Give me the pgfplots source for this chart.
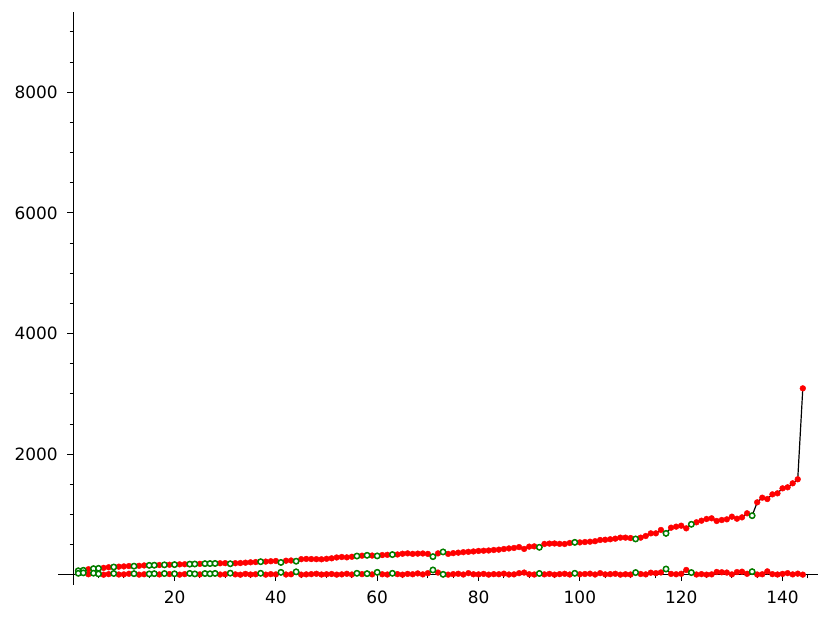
\documentclass[border=0pt]{standalone}
\usepackage{fontspec}
\setmainfont{DejaVu Sans}
\usepackage{pgfplots}
\pgfplotsset{compat=1.18}
\usepackage{pgfplotstable}
\definecolor{mplgreen}{RGB}{0,128,0}

% upper series
\pgfplotstableread{
x y
1 70
2 78
3 95
4 105
5 110
6 118
7 128
8 132
9 138
10 142
11 148
12 146
13 152
14 158
15 160
16 162
17 165
18 168
19 170
20 172
21 176
22 178
23 180
24 182
25 185
26 188
27 189
28 191
29 194
30 196
31 186
32 195
33 198
34 204
35 210
36 214
37 220
38 222
39 228
40 232
41 208
42 236
43 240
44 228
45 262
46 266
47 264
48 262
49 260
50 268
51 276
52 290
53 298
54 292
55 302
56 314
57 320
58 326
59 322
60 316
61 330
62 334
63 338
64 340
65 352
66 358
67 350
68 354
69 356
70 350
71 304
72 358
73 382
74 350
75 362
76 370
77 378
78 384
79 390
80 398
81 402
82 406
83 414
84 420
85 430
86 440
87 448
88 462
89 432
90 470
91 474
92 459
93 514
94 520
95 522
96 516
97 514
98 530
99 541
100 540
101 546
102 552
103 560
104 580
105 584
106 592
107 602
108 619
109 619
110 612
111 597
112 619
113 646
114 690
115 690
116 746
117 690
118 784
119 801
120 817
121 773
122 840
123 873
124 900
125 928
126 939
127 895
128 911
129 922
130 966
131 933
132 955
133 1022
134 983
135 1204
136 1281
137 1259
138 1336
139 1353
140 1436
141 1453
142 1519
143 1586
144 3093
}\upperdata

% lower series
\pgfplotstableread{
x y
1 28
2 35
3 12
4 30
5 18
6 5
7 14
8 25
9 8
10 10
11 20
12 22
13 6
14 12
15 18
16 22
17 9
18 24
19 15
20 20
21 6
22 14
23 26
24 18
25 10
26 24
27 20
28 26
29 8
30 12
31 30
32 10
33 5
34 18
35 8
36 12
37 28
38 6
39 14
40 10
41 44
42 8
43 12
44 52
45 6
46 10
47 14
48 20
49 8
50 12
51 16
52 6
53 10
54 20
55 8
56 28
57 14
58 22
59 10
60 44
61 12
62 8
63 28
64 14
65 6
66 18
67 12
68 26
69 10
70 30
71 83
72 40
73 11
74 6
75 14
76 20
77 8
78 30
79 12
80 10
81 18
82 6
83 14
84 12
85 22
86 8
87 10
88 30
89 40
90 12
91 8
92 25
93 10
94 18
95 6
96 14
97 20
98 8
99 28
100 12
101 16
102 22
103 8
104 30
105 10
106 14
107 20
108 6
109 12
110 8
111 40
112 16
113 10
114 38
115 30
116 42
117 99
118 18
119 12
120 20
121 83
122 40
123 8
124 14
125 6
126 10
127 50
128 45
129 40
130 10
131 48
132 55
133 20
134 55
135 8
136 12
137 60
138 14
139 8
140 18
141 30
142 10
143 22
144 6
}\lowerdata

\begin{document}
\begin{tikzpicture}
\begin{axis}[
    at={(58bp,34bp)}, anchor=south west,
    scale only axis, width=760bp, height=573bp,
    xmin=-3, xmax=147, ymin=-166, ymax=9330,
    axis lines=middle,
    axis line style={-, line width=1bp},
    every inner x axis line/.append style={-},
    every inner y axis line/.append style={-},
    tick align=outside,
    xtick={20,40,...,140}, ytick={2000,4000,6000,8000},
    minor xtick={5,10,...,145}, minor ytick={500,1000,...,9000},
    major tick length=6bp, minor tick length=3.5bp,
    tick style={black, line width=1bp},
    ticklabel style={font=\fontsize{17}{17}\selectfont},
    xticklabel style={yshift=-6bp},
    yticklabel style={xshift=-6bp},
    /pgf/number format/assume math mode=true,
    /pgf/number format/1000 sep={},
    clip=false,
]
% lines
\addplot[black, line width=1.2bp, no marks] table {\upperdata};
\addplot[black, line width=1.2bp, no marks] table {\lowerdata};
% red points
\addplot[only marks, mark=*, mark size=2.9bp, mark options={draw=red, fill=red}] table {\upperdata};
\addplot[only marks, mark=*, mark size=2.9bp, mark options={draw=red, fill=red}] table {\lowerdata};
% green rings
\addplot[only marks, mark=*, mark size=2.7bp, mark options={draw=mplgreen, fill=white, line width=1.5bp}] coordinates {
(1,70) (2,78) (4,105) (5,110) (8,132) (12,146) (15,160) (16,162) (18,168) (20,172)
(23,180) (24,182) (26,188) (27,189) (28,191) (31,186) (37,220) (41,208) (44,228)
(56,314) (58,326) (60,316) (63,338) (71,304) (73,382) (92,459) (99,541) (111,597)
(117,690) (122,840) (134,983)
};
\addplot[only marks, mark=*, mark size=2.7bp, mark options={draw=mplgreen, fill=white, line width=1.5bp}] coordinates {
(1,28) (2,35) (4,30) (5,18) (8,25) (12,22) (15,18) (16,22) (18,24) (20,20)
(23,26) (24,18) (26,24) (27,20) (28,26) (31,30) (37,28) (41,44) (44,52)
(56,28) (58,22) (60,44) (63,28) (71,83) (73,11) (92,25) (99,28) (111,40)
(117,99) (122,40) (134,55)
};
\end{axis}
\pgfresetboundingbox
\path[use as bounding box] (0,0) rectangle (831bp,619bp);
\end{tikzpicture}
\end{document}
